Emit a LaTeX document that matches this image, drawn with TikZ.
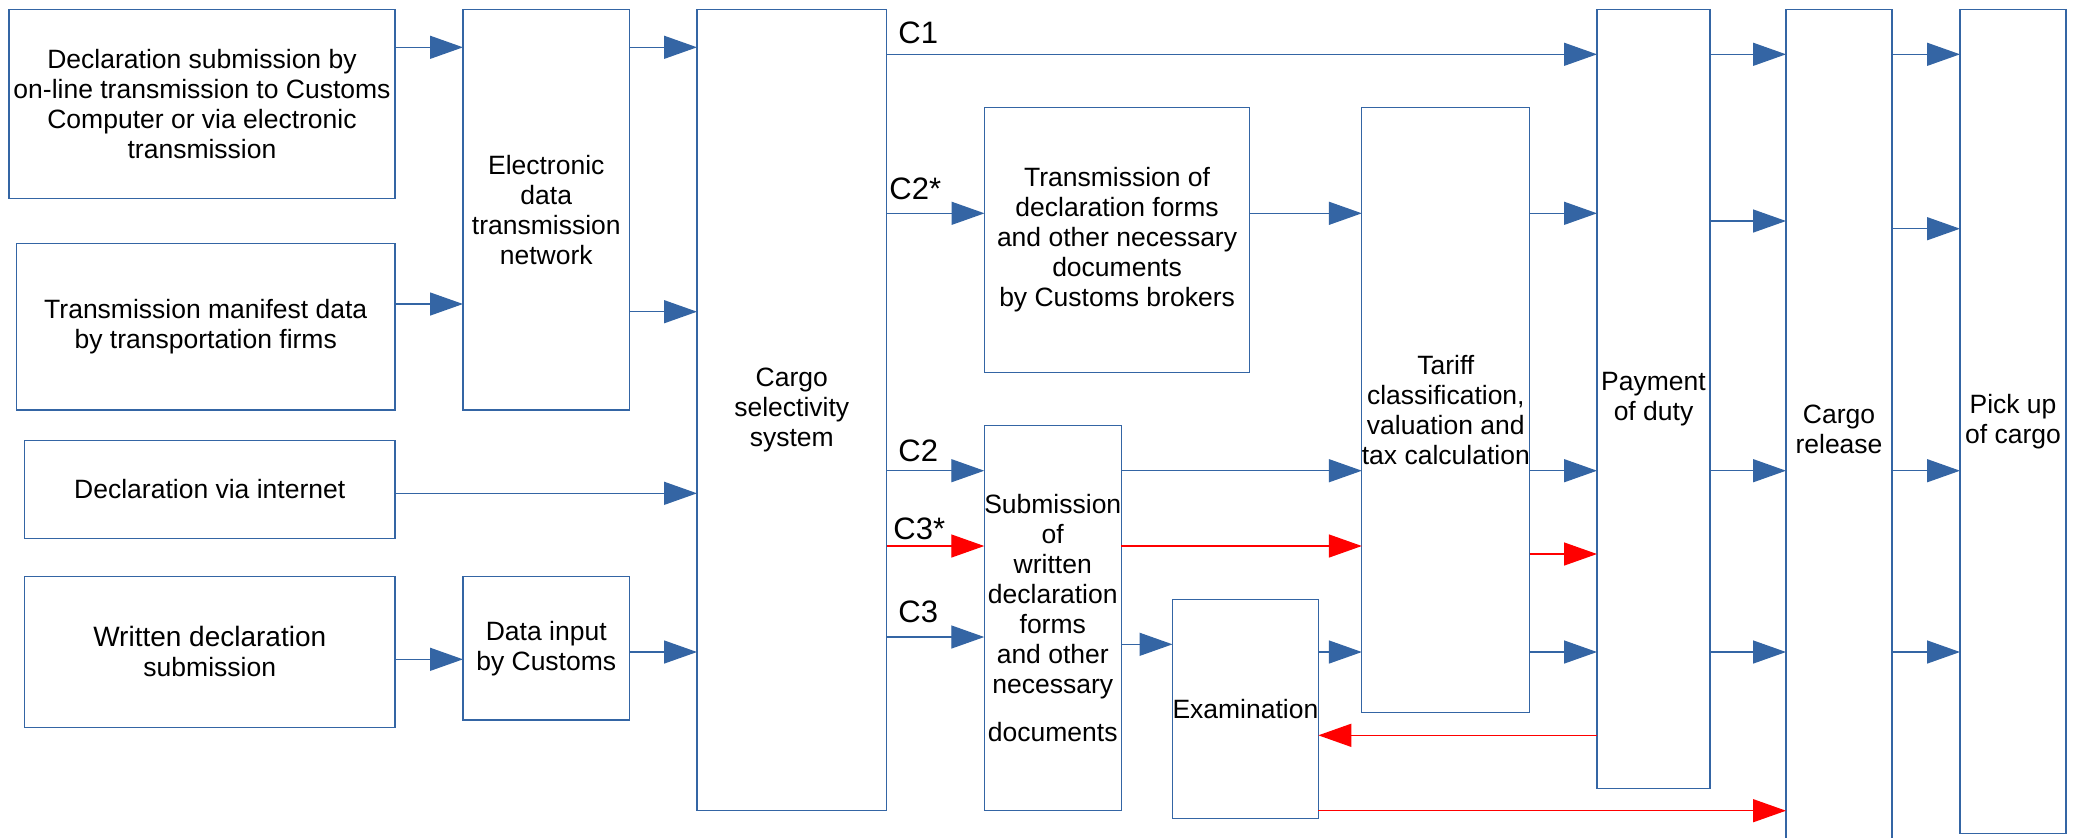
\documentclass[tikz,border=0pt]{standalone}
\usepackage{fontspec}
\setmainfont{Liberation Sans}
\usetikzlibrary{arrows.meta}
\definecolor{lblue}{HTML}{3465A4}
\definecolor{lred}{HTML}{FF0000}
\tikzset{
  box/.style={draw=lblue, line width=0.6pt, inner sep=0pt, outer sep=0pt, align=center,
    font=\fontsize{13.25pt}{15pt}\selectfont},
  barr/.style={draw=lblue, line width=0.7pt, -{Triangle[length=16.5pt,width=11.5pt]}},
  rarr/.style={draw=lred, line width=0.7pt, -{Triangle[length=16.5pt,width=11.5pt]}},
  clab/.style={font=\fontsize{15.5pt}{17pt}\selectfont, inner sep=0pt, anchor=base west},
}
\newcommand\hlink[4]{\draw[#1] (#2.east |- 0,#4) -- (#3.west |- 0,#4);}
\begin{document}
\begin{tikzpicture}[x=0.5pt, y=-0.5pt]
\useasboundingbox[fill=white] (0,0) rectangle (2080,837);

% boxes
\node[box, minimum width=193pt, minimum height=94.5pt] (d1) at (202,103.8)
  {Declaration submission by\\on-line transmission to Customs\\Computer or via electronic\\transmission};
\node[box, minimum width=189.25pt, minimum height=83.15pt] (man) at (205.75,326.85)
  {Transmission manifest data\\by transportation firms};
\node[box, minimum width=185.25pt, minimum height=48.8pt] (inet) at (209.75,489.5)
  {Declaration via internet};
\node[box, minimum width=185.25pt, minimum height=75.5pt] (wri) at (209.75,651.8)
  {\fontsize{14pt}{16pt}\selectfont Written declaration\\submission};
\node[box, minimum width=83.25pt, minimum height=200.35pt] (elec) at (546.25,209.65)
  {Electronic\\data\\transmission\\network};
\node[box, minimum width=83.25pt, minimum height=71.85pt] (dinp) at (546.25,648.15)
  {Data input\\by Customs};
\node[box, minimum width=94.75pt, minimum height=400.7pt] (csel) at (791.75,410)
  {Cargo\\selectivity\\system};
\node[box, minimum width=132.55pt, minimum height=132.3pt] (brok) at (1117.05,240)
  {Transmission of\\declaration forms\\and other necessary\\documents\\ by Customs brokers};
\node[box, minimum width=68.25pt, minimum height=192.7pt] (sub) at (1052.75,618)
  {Submission\\of\\written\\declaration\\forms\\and other\\necessary\\[9pt]documents};
\node[box, minimum width=72.1pt, minimum height=109.5pt] (exam) at (1245.4,708.8)
  {Examination};
\node[box, minimum width=83.8pt, minimum height=302.5pt] (tar) at (1445.8,410.2)
  {Tariff\\classification,\\valuation and\\tax calculation};
\node[box, minimum width=56.5pt, minimum height=389.5pt] (pay) at (1653.5,398.8)
  {Payment\\of duty};
\node[box, minimum width=53pt, minimum height=420.35pt] (rel) at (1839,429.65)
  {Cargo\\release};
\node[box, minimum width=53pt, minimum height=412pt] (pick) at (2013,421.3)
  {Pick up\\of cargo};

% labels
\node[clab] (lc1) at (898,43) {C1};
\node[clab] (lc2s) at (889,199) {C2*};
\node[clab] (lc2) at (898,461) {C2};
\node[clab] (lc3s) at (893,539) {C3*};
\node[clab] (lc3) at (898,622) {C3};

% connectors
\hlink{barr}{d1}{elec}{47.3}
\hlink{barr}{man}{elec}{304}
\hlink{barr}{elec}{csel}{47.3}
\hlink{barr}{elec}{csel}{311.7}
\hlink{barr}{inet}{csel}{493.3}
\hlink{barr}{wri}{dinp}{659.3}
\hlink{barr}{dinp}{csel}{652}
\hlink{barr}{csel}{pay}{54.3}
\hlink{barr}{csel}{brok}{213.3}
\hlink{barr}{csel}{sub}{470.7}
\hlink{rarr}{csel}{sub}{546}
\hlink{barr}{csel}{sub}{637}
\hlink{barr}{brok}{tar}{213.3}
\hlink{barr}{sub}{tar}{470.7}
\hlink{rarr}{sub}{tar}{546}
\hlink{barr}{sub}{exam}{644.3}
\hlink{barr}{exam}{tar}{652}
\hlink{barr}{tar}{pay}{213.3}
\hlink{barr}{tar}{pay}{470.7}
\hlink{rarr}{tar}{pay}{554}
\hlink{barr}{tar}{pay}{652}
\draw[rarr] (pay.west |- 0,735.3) -- (exam.east |- 0,735.3);
\hlink{rarr}{exam}{rel}{810.7}
\hlink{barr}{pay}{rel}{54.3}
\hlink{barr}{pay}{rel}{221}
\hlink{barr}{pay}{rel}{470.7}
\hlink{barr}{pay}{rel}{652}
\hlink{barr}{rel}{pick}{54.3}
\hlink{barr}{rel}{pick}{228.7}
\hlink{barr}{rel}{pick}{470.7}
\hlink{barr}{rel}{pick}{652}
\end{tikzpicture}
\end{document}
